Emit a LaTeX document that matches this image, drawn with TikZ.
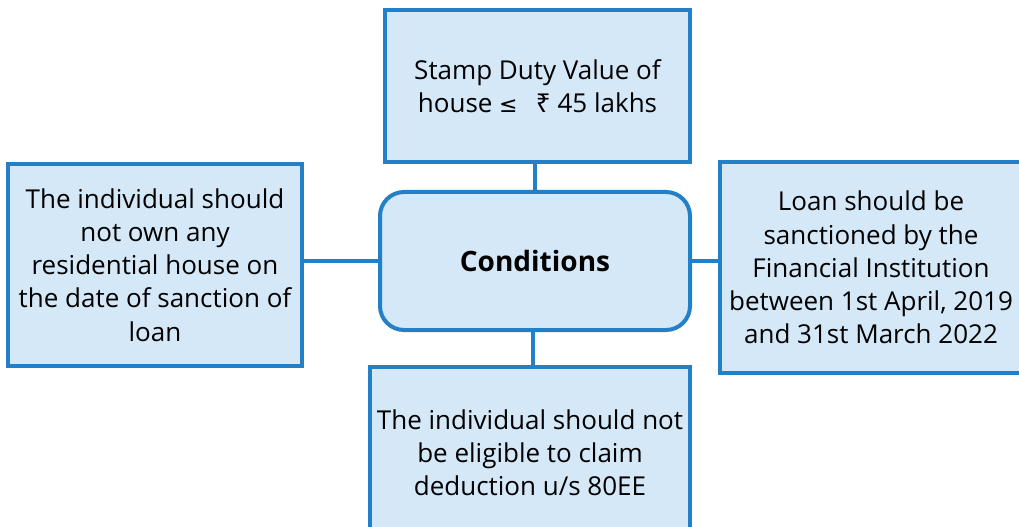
\documentclass[tikz,border=0pt]{standalone}
\usepackage{fontspec}
\setmainfont{Open Sans}
\newfontfamily\glyphfont{DejaVu Sans}
\newfontfamily\rupeefont{Noto Sans}
\usetikzlibrary{positioning}
\definecolor{rimblue}{RGB}{33,128,200}
\definecolor{paleblue}{RGB}{212,232,247}
\tikzstyle{rule} = [rectangle, draw=rimblue, fill=paleblue, line width=2pt,
                 align=center, inner sep=0pt,
                 font=\fontsize{13}{16.6}\selectfont]
\tikzstyle{link} = [draw=rimblue, line width=2pt]
\tikzset{
	hub/.style={rule, rounded corners=12pt, font=\fontsize{14}{16.6}\selectfont\bfseries},
}

\begin{document}
\begin{tikzpicture}[x=0.5pt, y=0.5pt]

\useasboundingbox (0,0) rectangle (1019,526);

\node [hub, minimum width=155pt, minimum height=69pt] at (535,265) (cond) {Conditions};

\node [rule, minimum width=152.5pt, minimum height=76pt] at (537.5,440) (value)
	{Stamp Duty Value of\\house {\glyphfont\fontsize{11}{16.6}\selectfont ≤}\;\, {\rupeefont ₹} 45 lakhs};
\node [rule, minimum width=147pt, minimum height=101pt] at (155,261) (own)
	{The individual should\\not own any\\residential house on\\the date of sanction of\\loan};
\node [rule, minimum width=151pt, minimum height=105.5pt] at (871,258.5) (loan)
	{Loan should be\\sanctioned by the\\Financial Institution\\between 1st April, 2019\\and 31st March 2022};
\node [rule, minimum width=160pt, minimum height=86pt] at (530,73) (claim)
	{The individual should not\\be eligible to claim\\deduction u/s 80EE};

%links
\path [link] (cond.north) -- (cond.north |- value.south);
\path [link] (cond.west) -- (cond.west -| own.east);
\path [link] (cond.east) -- (cond.east -| loan.west);
\path [link] ([xshift=-1pt]cond.south) -- ([xshift=-1pt]cond.south |- claim.north);

\end{tikzpicture}
\end{document}
